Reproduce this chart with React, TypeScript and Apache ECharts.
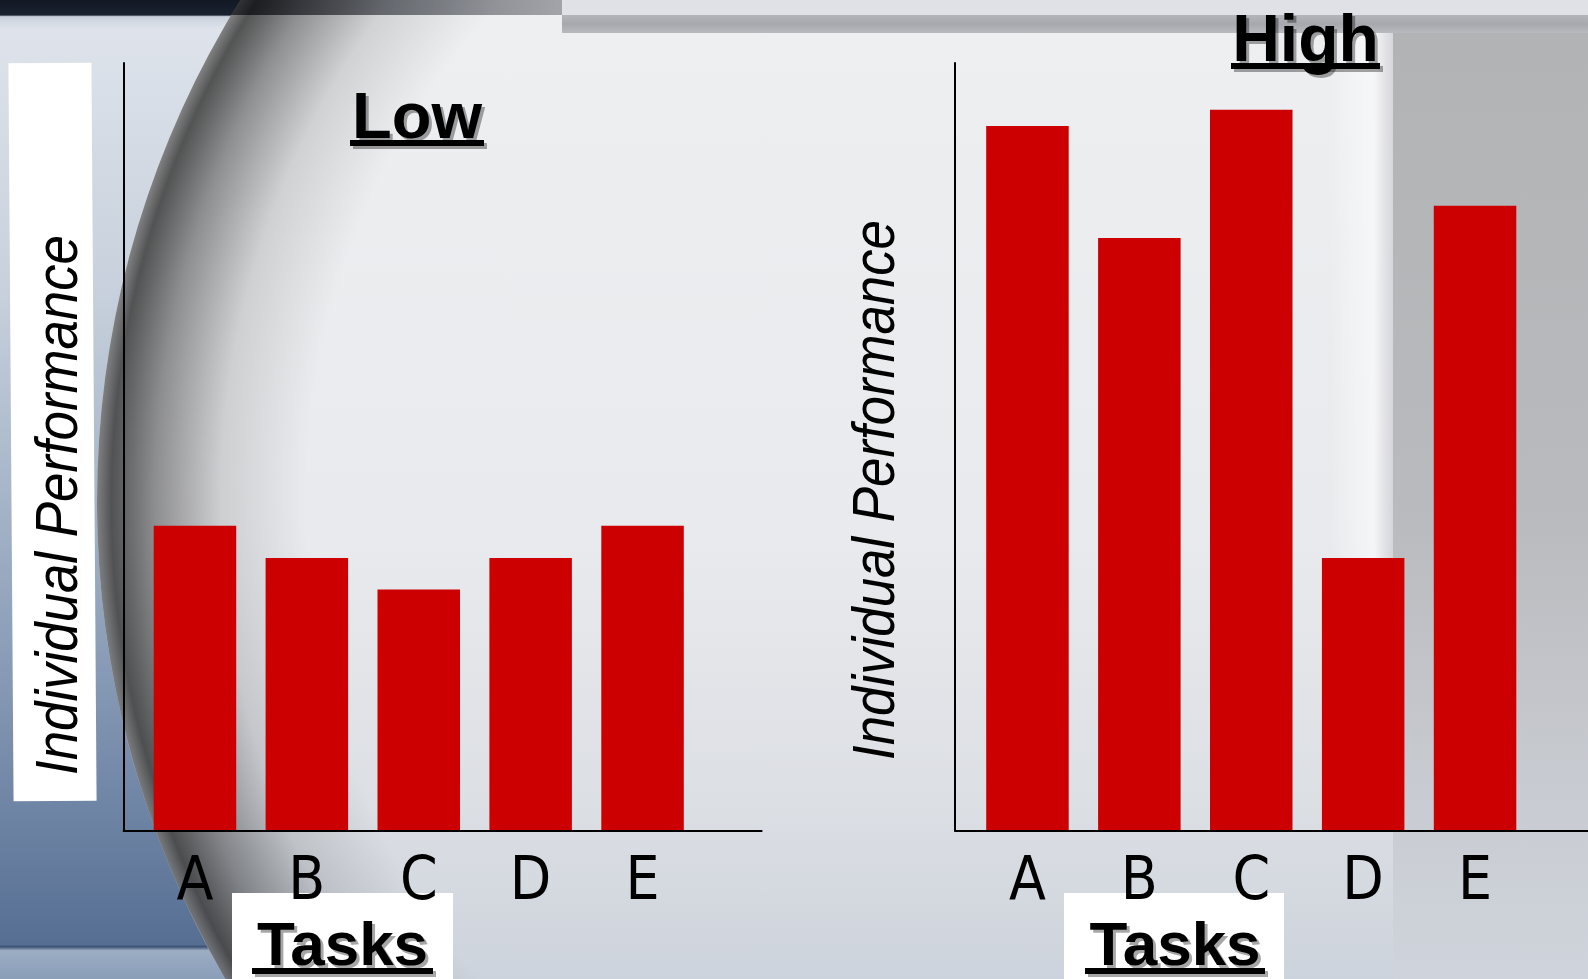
import React, { useEffect, useRef } from "react";
import * as echarts from "echarts";

// ---- data ----
const categories = ["A", "B", "C", "D", "E"];
const lowValues = [39.7, 35.5, 31.4, 35.5, 39.7];
const highValues = [91.8, 77.2, 93.9, 35.5, 81.4];
const panelTitles = ["Low", "High"];
const yAxisTitle = "Individual Performance";
const xAxisTitle = "Tasks";

// ---- layout ----
const W = 1588;
const H = 979;
const TOP = 63;
const BASE = 830.5;
const PLOT_H = BASE - TOP;
const BAND = 111.9;
const BAR_W = 82.5;
const NARROW = "'Liberation Sans Narrow', 'Arial Narrow', 'DejaVu Sans Condensed', sans-serif";
const SANS = "'Liberation Sans', Arial, sans-serif";
const BAR_COLOR = "#cc0000";

const LENS = { cx: 1048, cy: 502, r: 951 };

function buildOption() {
  const lg = (x: number, y: number, x2: number, y2: number, stops: [number, string][]) =>
    new echarts.graphic.LinearGradient(
      x, y, x2, y2,
      stops.map(([offset, color]) => ({ offset, color })),
      true
    );

  const background: any[] = [
    // paper
    {
      type: "rect", z: -100, silent: true,
      shape: { x: 0, y: 0, width: W, height: H },
      style: {
        fill: lg(0, 0, 0, H, [
          [0, "#eeeff1"], [0.55, "#e9eaed"], [0.82, "#dcdfe4"], [1, "#cdd3dc"],
        ]),
      },
    },
    // top gray band left of the strip
    {
      type: "rect", z: -99, silent: true,
      shape: { x: 0, y: 0, width: 562, height: 15 },
      style: { fill: lg(240, 0, 562, 0, [[0, "#4c5058"], [1, "#a2a4a9"]]) },
    },
    // top strip
    {
      type: "rect", z: -99, silent: true,
      shape: { x: 562, y: 0, width: W - 562, height: 15 },
      style: { fill: "#dfe1e6" },
    },
    {
      type: "rect", z: -99, silent: true,
      shape: { x: 562, y: 15, width: W - 562, height: 18 },
      style: { fill: lg(0, 15, 0, 33, [[0, "#b3b5ba"], [0.5, "#a6a8ad"], [1, "#b8babf"]]) },
    },
    // right gray panel
    {
      type: "rect", z: -98, silent: true,
      shape: { x: 1393, y: 33, width: W - 1393, height: H - 33 },
      style: {
        fill: lg(0, 33, 0, H, [
          [0, "#b2b3b5"], [0.5, "#b9babd"], [0.8, "#c8cbd1"], [1, "#cfd4dc"],
        ]),
      },
    },
    {
      type: "rect", z: -98, silent: true,
      shape: { x: 1330, y: 33, width: 63, height: 560 },
      style: { fill: lg(1330, 0, 1393, 0, [[0, "rgba(255,255,255,0)"], [0.7, "rgba(250,250,252,0.7)"], [1, "rgba(200,200,205,0.6)"]]) },
    },
    // outside of lens: blue panel
    {
      type: "ring", z: -90, silent: true,
      shape: { cx: LENS.cx, cy: LENS.cy, r: 2800, r0: LENS.r },
      style: {
        fill: lg(0, 0, 0, H, [
          [0, "#121824"], [0.0153, "#1a2130"], [0.017, "#c9d1dc"], [0.03, "#dee3eb"],
          [0.3, "#c7d0dc"], [0.5, "#a7b6c9"], [0.7, "#8598b4"], [0.92, "#5e7699"],
          [0.965, "#566e92"], [0.967, "#3c5274"], [0.971, "#9cadc3"], [1, "#8a9eb9"],
        ]),
      },
    },
    // lens edge shadow
    {
      type: "ring", z: -89, silent: true,
      shape: { cx: LENS.cx, cy: LENS.cy, r: LENS.r, r0: LENS.r - 220 },
      style: {
        fill: new echarts.graphic.RadialGradient(
          LENS.cx, LENS.cy, LENS.r,
          [
            { offset: 0, color: "rgba(0,0,0,0)" },
            { offset: 0.78, color: "rgba(0,0,0,0)" },
            { offset: 0.87, color: "rgba(0,0,0,0.12)" },
            { offset: 0.94, color: "rgba(0,0,0,0.4)" },
            { offset: 0.985, color: "rgba(0,0,0,0.65)" },
            { offset: 1, color: "rgba(20,20,20,0.5)" },
          ],
          true
        ),
      },
    },
  ];

  const titleShadow = {
    textShadowColor: "rgba(0,0,0,0.35)",
    textShadowOffsetX: 3,
    textShadowOffsetY: 3,
    textShadowBlur: 1,
  };
  const underline = (x: number, y: number, w: number) => ({
    type: "rect", z: 100, silent: true,
    shape: { x, y, width: w, height: 6 },
    style: { fill: "#000", shadowColor: "rgba(0,0,0,0.35)", shadowOffsetX: 3, shadowOffsetY: 3, shadowBlur: 1 },
  });
  const yTitle = (x: number, y: number) => ({
    type: "text", z: 100, silent: true,
    x, y, rotation: Math.PI / 2, scaleX: 0.88,
    style: {
      text: yAxisTitle, fill: "#000", fontSize: 60, fontStyle: "italic",
      fontFamily: SANS, textAlign: "center", textVerticalAlign: "middle",
    },
  });
  const tasksText = (x: number) => ({
    type: "text", z: 100, silent: true, x, y: 943,
    style: {
      text: xAxisTitle, fill: "#000", fontSize: 62, fontWeight: "bold", lineHeight: 50,
      fontFamily: SANS, textAlign: "center", textVerticalAlign: "middle", ...titleShadow,
    },
  });

  const foreground: any[] = [
    // white box behind left y title
    {
      type: "rect", z: -5, silent: true,
      x: 52.5, y: 432, rotation: 0.007,
      shape: { x: -41.5, y: -369, width: 83, height: 738 },
      style: { fill: "#ffffff" },
    },
    yTitle(56, 505),
    yTitle(873, 490),
    // panel titles
    {
      type: "text", z: 100, silent: true, x: 417, y: 115.5,
      style: {
        text: panelTitles[0], fill: "#000", fontSize: 65, fontWeight: "bold",
        fontFamily: SANS, textAlign: "center", textVerticalAlign: "middle", ...titleShadow,
      },
    },
    underline(350, 140, 134),
    {
      type: "text", z: 100, silent: true, x: 1305.5, y: 37.5,
      style: {
        text: panelTitles[1], fill: "#000", fontSize: 66, fontWeight: "bold",
        fontFamily: SANS, textAlign: "center", textVerticalAlign: "middle", ...titleShadow,
      },
    },
    underline(1231, 63, 149),
    // Tasks boxes
    {
      type: "rect", z: -5, silent: true,
      shape: { x: 232, y: 893, width: 221, height: H - 893 },
      style: { fill: "#ffffff" },
    },
    {
      type: "rect", z: -5, silent: true,
      shape: { x: 1064, y: 893, width: 220, height: H - 893 },
      style: { fill: "#ffffff" },
    },
    tasksText(342.5),
    underline(252, 968, 181),
    tasksText(1175),
    underline(1085, 968, 180),
  ];

  const catAxis = (gridIndex: number) => ({
    gridIndex,
    type: "category",
    data: categories,
    z: 10,
    axisLine: { show: false },
    axisTick: { show: false },
    splitLine: { show: false },
    axisLabel: {
      interval: 0,
      margin: 22,
      fontSize: 60,
      lineHeight: 50,
      fontFamily: NARROW,
      color: "#000",
    },
  });
  const frameAxis = (gridIndex: number) => ({
    gridIndex,
    type: "value",
    min: 0,
    max: 1,
    z: 5,
    axisLine: { show: true, lineStyle: { color: "#000", width: 2 } },
    axisTick: { show: false },
    axisLabel: { show: false },
    splitLine: { show: false },
  });
  const hiddenValue = (gridIndex: number) => ({
    gridIndex, type: "value", min: 0, max: 100, show: false, splitLine: { show: false },
  });

  return {
    animation: false,
    backgroundColor: "transparent",
    grid: [
      { left: 139, top: TOP, width: BAND * 5, height: PLOT_H },
      { left: 971.5, top: TOP, width: BAND * 5, height: PLOT_H },
      { left: 123.6, top: TOP, width: 638, height: PLOT_H },
      { left: 955, top: TOP, width: 640, height: PLOT_H },
    ],
    xAxis: [catAxis(0), catAxis(1), frameAxis(2), frameAxis(3)],
    yAxis: [hiddenValue(0), hiddenValue(1), frameAxis(2), frameAxis(3)],
    series: [
      {
        name: panelTitles[0], type: "bar", xAxisIndex: 0, yAxisIndex: 0,
        data: lowValues, barWidth: BAR_W, itemStyle: { color: BAR_COLOR },
      },
      {
        name: panelTitles[1], type: "bar", xAxisIndex: 1, yAxisIndex: 1,
        data: highValues, barWidth: BAR_W, itemStyle: { color: BAR_COLOR },
      },
    ],
    graphic: [...background, ...foreground],
  };
}

export default function App() {
  const ref = useRef<HTMLDivElement>(null);
  useEffect(() => {
    if (!ref.current) return;
    const chart = echarts.init(ref.current, null, { renderer: "svg" });
    chart.setOption(buildOption() as any);
    return () => chart.dispose();
  }, []);
  return (
    <div
      ref={ref}
      style={{ position: "fixed", left: 0, top: 0, width: W, height: H }}
    />
  );
}
